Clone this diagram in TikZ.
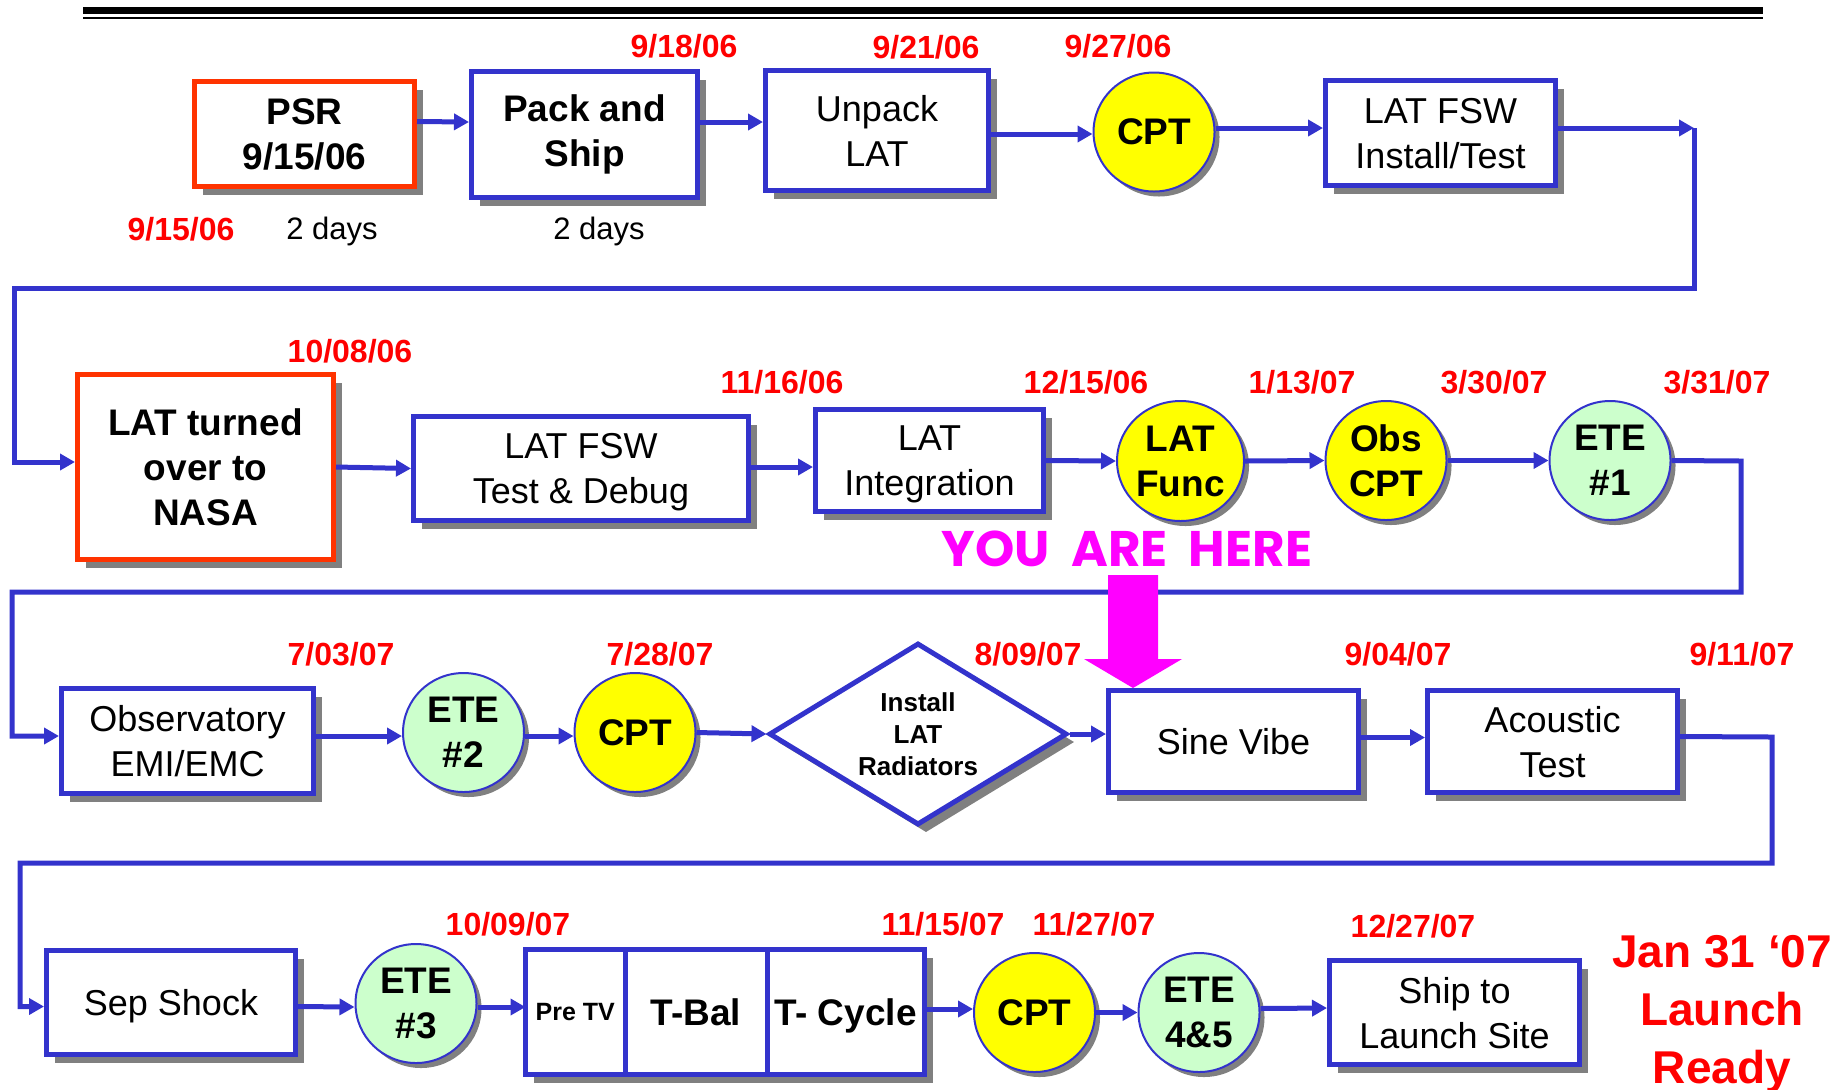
\documentclass[tikz,border=0pt]{standalone}
\usepackage{fontspec}
\setmainfont{Liberation Sans}
\newfontfamily\herefont{Poppins}
\usepackage{tikz}
\usetikzlibrary{arrows.meta,positioning,shapes.geometric,shadows}

\definecolor{lineblue}{HTML}{3333CC}
\definecolor{boxred}{HTML}{FF3300}
\definecolor{datered}{HTML}{FF0000}
\definecolor{cptyellow}{HTML}{FFFF00}
\definecolor{etegreen}{HTML}{CCFFCC}
\definecolor{heremagenta}{HTML}{FF00FF}
\definecolor{shadowgray}{HTML}{808080}

\begin{document}
\begin{tikzpicture}[
  x=0.5pt, y=-0.5pt,
  task/.style={draw=lineblue, line width=2.5pt, fill=white, align=center, inner sep=0pt, text depth=0pt,
    drop shadow={shadow xshift=4pt, shadow yshift=-4pt, fill=shadowgray, opacity=1},
    font=\fontsize{18}{22.5}\selectfont},
  boldtask/.style={task, font=\fontsize{18.5}{22.5}\selectfont\bfseries},
  review/.style={boldtask, draw=boxred},
  cpt/.style={ellipse, draw=lineblue, line width=1pt, fill=cptyellow, align=center, inner sep=0pt, text depth=0pt,
    minimum width=60.5pt, minimum height=59.5pt,
    drop shadow={shadow xshift=2.5pt, shadow yshift=-2.5pt, fill=shadowgray, opacity=1},
    font=\fontsize{18.5}{22.5}\selectfont\bfseries},
  ete/.style={cpt, fill=etegreen},
  decision/.style={diamond, aspect=1.64, draw=lineblue, line width=2.5pt, fill=white, align=center, inner sep=0pt,
    drop shadow={shadow xshift=4pt, shadow yshift=-4pt, fill=shadowgray, opacity=1},
    font=\fontsize{13}{16}\selectfont\bfseries},
  date/.style={anchor=base, text=datered, font=\fontsize{16}{19}\selectfont\bfseries},
  duration/.style={anchor=base, font=\fontsize{15.5}{19}\selectfont},
  arrow/.style={-{Triangle[length=7.5pt, width=8pt]}, line width=2.5pt, draw=lineblue}
]
\useasboundingbox (0,0) rectangle (1839,1089);

% header rule
\draw[line width=3.5pt] (83,10.5) -- (1763,10.5);
\draw[line width=1pt] (83,17.7) -- (1763,17.7);

% row 1
\node[review, minimum width=110pt, minimum height=52.5pt] (psr) at (304.5,134) {PSR\\9/15/06};
\node[boldtask, text depth=4pt, minimum width=113pt, minimum height=63pt] (pack) at (584.5,134.5) {Pack and\\Ship};
\node[task, minimum width=111.5pt, minimum height=60pt] (unpack) at (877,130.5) {Unpack\\LAT};
\node[cpt] (cptA) at (1154,132) {CPT};
\node[task, minimum width=115pt, minimum height=52.5pt] (fswinstall) at (1440.5,133) {LAT FSW\\Install/Test};

% row 2
\node[review, minimum width=128pt, minimum height=92.5pt] (handover) at (205.5,467) {LAT turned\\over to\\NASA};
\node[task, minimum width=167.5pt, minimum height=52pt] (fswtest) at (581,468.5) {LAT FSW\\Test \& Debug};
\node[task, minimum width=114pt, minimum height=51pt] (integ) at (929.5,460.5) {LAT\\Integration};
\node[cpt, minimum width=63.5pt, minimum height=60pt] (latfunc) at (1180.5,461) {LAT\\Func};
\node[cpt] (obscpt) at (1386,460.5) {Obs\\CPT};
\node[ete] (eteA) at (1610,460.5) {ETE\\\#1};

% row 3
\node[task, minimum width=126pt, minimum height=52.5pt] (emi) at (187.5,741) {Observatory\\EMI/EMC};
\node[ete] (eteB) at (463.5,732.5) {ETE\\\#2};
\node[cpt] (cptB) at (635,732.5) {CPT};
\node[decision, minimum width=149pt, minimum height=91pt] (radiators) at (918,734) {Install\\LAT\\Radiators};
\node[task, minimum width=125pt, minimum height=51pt] (sine) at (1233.5,741.5) {Sine Vibe};
\node[task, minimum width=125pt, minimum height=51pt] (acoustic) at (1552.5,741.5) {Acoustic\\Test};

% row 4
\node[task, minimum width=124.5pt, minimum height=52pt] (sep) at (171,1002.5) {Sep Shock};
\node[ete] (eteC) at (416,1003.5) {ETE\\\#3};
\node[boldtask, outer sep=0pt, minimum width=49.75pt, minimum height=62.5pt,
  font=\fontsize{12.5}{15}\selectfont\bfseries] (pretv) at (575.25,1012) {Pre TV};
\node[boldtask, outer sep=0pt, minimum width=71pt, minimum height=62.5pt, right=0pt of pretv] (tbal) {T-Bal};
\node[boldtask, outer sep=0pt, minimum width=78.75pt, minimum height=62.5pt, right=0pt of tbal] (tcycle) {T- Cycle};
\node[cpt] (cptC) at (1034.5,1012.5) {CPT};
\node[ete] (eteD) at (1199,1012.5) {ETE\\4\&5};
\node[task, minimum width=125pt, minimum height=52pt] (ship) at (1454.5,1012.5) {Ship to\\Launch Site};

% turn points between rows
\coordinate (endA) at (1694,128);
\coordinate (bendA) at (14,288);
\coordinate (endB) at (1741,461);
\coordinate (bendB) at (12,592);
\coordinate (endC) at (1772,737);
\coordinate (bendC) at (20,863);

\draw[arrow] ([yshift=6.25pt]psr.east) -- ([yshift=6.25pt]pack.west);
\draw[arrow] ([yshift=6.25pt]pack.east) -- ([yshift=4.25pt]unpack.west);
\draw[arrow] ([yshift=-1.75pt]unpack.east) -- ([yshift=-1pt]cptA.west);
\draw[arrow] ([yshift=2pt]cptA.east) -- ([yshift=2.5pt]fswinstall.west);
\draw[arrow] ([yshift=2.5pt]fswinstall.east) -- (endA);
\draw[arrow] (endA) |- (bendA) |- ([yshift=2.5pt]handover.west);

\draw[arrow] (handover.east) -- (fswtest.west);
\draw[arrow] ([yshift=0.75pt]fswtest.east) -- ([yshift=-3.25pt]integ.west);
\draw[arrow] (integ.east) -- (latfunc.west);
\draw[arrow] (latfunc.east) -- (obscpt.west);
\draw[arrow] (obscpt.east) -- (eteA.west);
\draw[arrow] (eteA.east) -- (endB) |- (bendB) |- ([yshift=2.5pt]emi.west);

\draw[arrow] ([yshift=2.5pt]emi.east) -- ([yshift=-1.75pt]eteB.west);
\draw[arrow] ([yshift=-1.75pt]eteB.east) -- ([yshift=-1.75pt]cptB.west);
\draw[arrow] (cptB.east) -- (radiators.west);
\draw[arrow] (radiators.east) -- (radiators.east -| sine.west);
\draw[arrow] ([yshift=2pt]sine.east) -- ([yshift=2pt]acoustic.west);
\draw[arrow] ([yshift=2.5pt]acoustic.east) -- (endC) |- (bendC) |- ([yshift=-2pt]sep.west);

\draw[arrow] ([yshift=-2pt]sep.east) -- ([yshift=-1.75pt]eteC.west);
\draw[arrow] ([yshift=-1.75pt]eteC.east) -- ([yshift=2.5pt]pretv.west);
\draw[arrow] ([yshift=1.5pt]tcycle.east) -- ([yshift=1.75pt]cptC.west);
\draw[arrow] (cptC.east) -- (eteD.west);
\draw[arrow] ([yshift=2pt]eteD.east) -- ([yshift=2.25pt]ship.west);

% dates
\node[date] (dPsr) at (181,240) {9/15/06};
\node[duration] (dayA) at (332,239) {2 days};
\node[duration] (dayB) at (599,239) {2 days};
\node[date] (dPack) at (684,57) {9/18/06};
\node[date] (dUnpack) at (926,58) {9/21/06};
\node[date] (dCptA) at (1118,57) {9/27/06};
\node[date] (dHandover) at (350,362) {10/08/06};
\node[date] (dFswtest) at (782,393) {11/16/06};
\node[date] (dInteg) at (1086,393) {12/15/06};
\node[date] (dLatfunc) at (1302,393) {1/13/07};
\node[date] (dObscpt) at (1494,393) {3/30/07};
\node[date] (dEteA) at (1717,393) {3/31/07};
\node[date] (dEmi) at (341,665) {7/03/07};
\node[date] (dCptB) at (660,665) {7/28/07};
\node[date] (dRadiators) at (1028,665) {8/09/07};
\node[date] (dSine) at (1398,665) {9/04/07};
\node[date] (dAcoustic) at (1742,665) {9/11/07};
\node[date] (dEteC) at (508,935) {10/09/07};
\node[date] (dTcycle) at (943,935) {11/15/07};
\node[date] (dCptC) at (1094,935) {11/27/07};
\node[date] (dShip) at (1413,937) {12/27/07};
\node[anchor=north, inner sep=0pt, align=center, text=datered,
  font=\fontsize{23}{29}\selectfont\bfseries] (launch) at (1722,935) {Jan 31 ‘07\\Launch\\Ready};

% you are here
\node[text=heremagenta, font=\herefont\fontsize{25}{30}\selectfont\bfseries] (here) at (1127,549) {YOU~~ARE~~HERE};
\fill[heremagenta] (1108,575) -- (1158,575) -- (1158,659) -- (1182,659) -- (1133,688)
  -- (1084,659) -- (1108,659) -- cycle;
\end{tikzpicture}
\end{document}
